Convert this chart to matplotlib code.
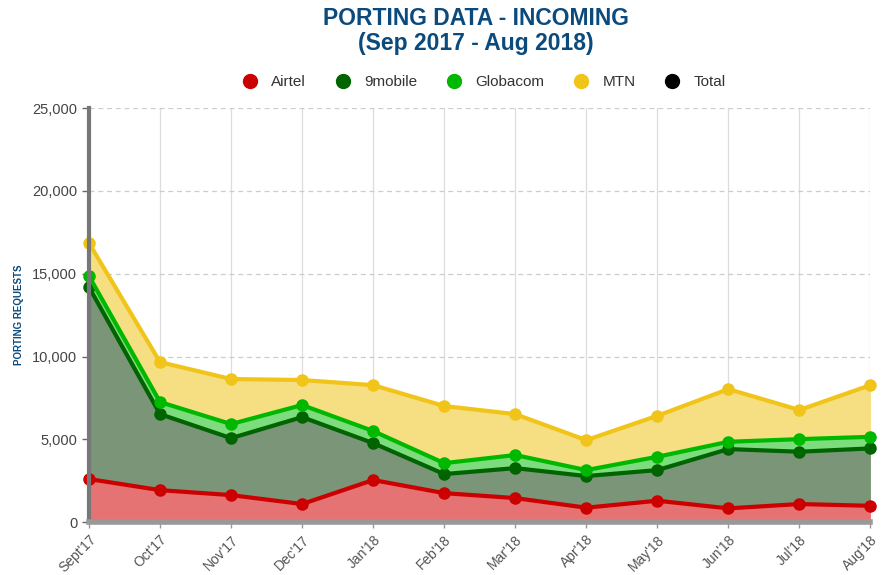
import numpy as np
import matplotlib
matplotlib.use("Agg")
import matplotlib.pyplot as plt
from matplotlib.ticker import FuncFormatter
from matplotlib.lines import Line2D

months = ["Sept'17", "Oct'17", "Nov'17", "Dec'17", "Jan'18", "Feb'18",
          "Mar'18", "Apr'18", "May'18", "Jun'18", "Jul'18", "Aug'18"]

airtel = [2600, 1930, 1630, 1090, 2540, 1750, 1450, 870, 1290, 830, 1090, 985]
nine_mobile = [11590, 4590, 3440, 5250, 2230, 1150, 1810, 1910, 1850, 3580, 3160, 3465]
globacom = [665, 730, 850, 730, 730, 660, 790, 360, 805, 440, 760, 700]
mtn = [1995, 2410, 2720, 1510, 2770, 3450, 2470, 1810, 2475, 3180, 1760, 3120]

series = [
    ("Airtel", airtel, "#cc0000", "#e57373"),
    ("9mobile", nine_mobile, "#006400", "#7a9577"),
    ("Globacom", globacom, "#00b800", "#7ddc7d"),
    ("MTN", mtn, "#f0c419", "#f5df82"),
]

plt.rcParams['font.family'] = ['Liberation Sans', 'DejaVu Sans']

fig = plt.figure(figsize=(8.81, 5.75), dpi=100)
ax = fig.add_axes([0.101, 0.092, 0.887, 0.72])

x = np.arange(len(months))
base = np.zeros(len(months))
tops = []
for name, vals, line_c, fill_c in series:
    top = base + np.array(vals)
    ax.fill_between(x, base, top, color=fill_c, lw=0, zorder=2)
    tops.append((top, line_c))
    base = top

for top, line_c in tops:
    ax.plot(x, top, color=line_c, lw=3, marker='o', ms=8, zorder=3, clip_on=False)

ax.set_xlim(0, len(months) - 1)
ax.set_ylim(0, 25000)
ax.set_yticks(range(0, 25001, 5000))
ax.yaxis.set_major_formatter(FuncFormatter(lambda v, p: f"{int(v):,}"))
ax.set_xticks(x)
ax.set_xticklabels(months, rotation=45, ha='right', rotation_mode='anchor')

ax.grid(axis='y', color='#cccccc', linestyle=(0, (4, 3)), lw=0.9, zorder=0)
ax.grid(axis='x', color='#dddddd', linestyle='-', lw=0.9, zorder=0)
ax.set_axisbelow(True)

for s in ['top', 'right']:
    ax.spines[s].set_visible(False)
ax.spines['left'].set_color('#777777')
ax.spines['left'].set_linewidth(3)
ax.spines['bottom'].set_color('#999999')
ax.spines['bottom'].set_linewidth(4)
ax.spines['left'].set_zorder(4)
ax.spines['bottom'].set_zorder(4)

ax.tick_params(axis='y', colors='#666666', labelcolor='#444444', labelsize=10.5, length=5, width=1)
ax.tick_params(axis='x', colors='#999999', labelcolor='#555555', labelsize=10, length=4, width=1)

ax.set_ylabel("PORTING REQUESTS", color='#0b4a7d', fontsize=7, fontweight='bold', labelpad=20)
ax.yaxis.set_label_coords(-0.083, 0.5)

fig.text(0.54, 0.988, "PORTING DATA - INCOMING\n(Sep 2017 - Aug 2018)", ha='center', va='top',
         color='#0b4a7d', fontsize=16.5, fontweight='bold', linespacing=1.12)

handles = [Line2D([], [], color=c, marker='o', ls='none', ms=10)
           for c in ['#cc0000', '#006400', '#00b800', '#f0c419', '#000000']]
fig.legend(handles, ["Airtel", "9mobile", "Globacom", "MTN", "Total"],
           loc='center', bbox_to_anchor=(0.545, 0.857), ncol=5, frameon=False,
           fontsize=11, handletextpad=0.4, columnspacing=1.4, labelcolor='#333333')

fig.savefig("out.png", dpi=100)
